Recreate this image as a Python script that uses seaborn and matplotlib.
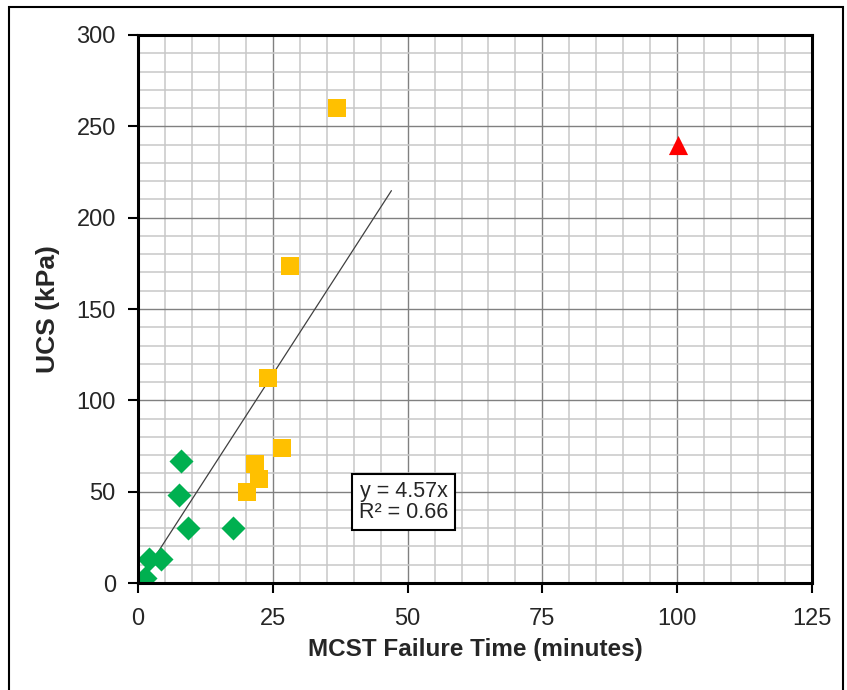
import numpy as np
import pandas as pd
import matplotlib
matplotlib.use('Agg')
import matplotlib.pyplot as plt
from matplotlib.patches import Rectangle
from matplotlib.ticker import MultipleLocator
import seaborn as sns

# ── データ ──────────────────────────────────────────
green_x = [1.3, 2.0, 4.3, 8.0, 7.6, 9.3, 17.6]
green_y = [3, 13, 13, 67, 48, 30, 30]
orange_x = [36.9, 28.2, 24.1, 26.7, 21.7, 22.4, 20.2]
orange_y = [260, 173.5, 112, 74, 65, 57, 50]
red_x = [100.2]
red_y = [240]
slope = 4.57
fit_x = [1.0, 47.0]
eq_text = 'y = 4.57x\nR² = 0.66'

df = pd.DataFrame({
    'x': green_x + orange_x + red_x,
    'y': green_y + orange_y + red_y,
    'grp': ['g'] * len(green_x) + ['o'] * len(orange_x) + ['r'] * len(red_x),
})

sns.set_style('white')
plt.rcParams['font.family'] = ['Liberation Sans', 'DejaVu Sans']

fig = plt.figure(figsize=(8.47, 6.9), dpi=100)
ax = fig.add_axes([138 / 847, 1 - 583 / 690, 674 / 847, 548 / 690])

# グリッド
ax.xaxis.set_major_locator(MultipleLocator(25))
ax.xaxis.set_minor_locator(MultipleLocator(5))
ax.yaxis.set_major_locator(MultipleLocator(50))
ax.yaxis.set_minor_locator(MultipleLocator(10))
ax.grid(which='minor', color='#c8c8c8', linewidth=1.1)
ax.grid(which='major', color='#808080', linewidth=1.0)
ax.set_axisbelow(True)

styles = {'g': ('D', '#00B050', 150), 'o': ('s', '#FFC000', 170), 'r': ('^', '#FF0000', 190)}
for g, (m, c, s) in styles.items():
    sns.scatterplot(data=df[df.grp == g], x='x', y='y', marker=m, color=c,
                    s=s, linewidth=0, ax=ax, zorder=3, legend=False)

fx = np.array(fit_x)
ax.plot(fx, slope * fx, color='#404040', linewidth=0.9, zorder=2)

ax.text(49.3, 44.3, eq_text, ha='center', va='center', fontsize=15.5, linespacing=1.05,
        bbox=dict(boxstyle='square,pad=0.32', facecolor='white', edgecolor='black', linewidth=1.5),
        zorder=4)

ax.set_xlim(0, 125)
ax.set_ylim(0, 300)
ax.set_xlabel('MCST Failure Time (minutes)', fontsize=17.5, fontweight='bold')
ax.set_ylabel('UCS (kPa)', fontsize=19, fontweight='bold')
ax.xaxis.set_label_coords(0.5, -0.1)
ax.yaxis.set_label_coords(-0.115, 0.5)
ax.tick_params(which='major', direction='out', length=7, width=1.5, labelsize=17,
               bottom=True, left=True, color='black')
ax.tick_params(axis='x', pad=11)
ax.tick_params(axis='y', pad=9)
ax.tick_params(which='minor', length=0)
for sp in ax.spines.values():
    sp.set_color('black')
    sp.set_linewidth(2.2)
    sp.set_zorder(5)

# 外枠
fig.patches.append(Rectangle((9 / 847, -0.05), 834 / 847, 1.05 - 7 / 690,
                             transform=fig.transFigure, fill=False,
                             edgecolor='black', linewidth=1.5))

fig.savefig('out.png', dpi=100)
